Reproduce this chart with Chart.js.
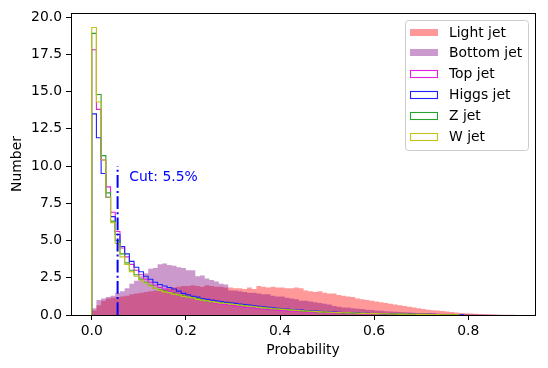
<!DOCTYPE html>
<html>
<head>
<meta charset="utf-8">
<script src="https://cdn.jsdelivr.net/npm/chart.js@4/dist/chart.umd.min.js"></script>
<style>
  html, body { margin: 0; padding: 0; background: #fff; }
  #wrap { width: 548px; height: 368px; position: relative; }
</style>
</head>
<body>
<div id="wrap"><canvas id="c" width="548" height="368"></canvas></div>
<script>
// ---- data (bin width 0.01, starting at 0) ----
const binStart = 0.0;
const binWidth = 0.01;

const lightJet = [
  0.3, 0.65, 0.95, 1.1, 1.15, 1.2, 1.25, 1.3, 1.4, 1.45,
  1.5, 1.55, 1.6, 1.65, 1.7, 1.75, 1.8, 1.85, 1.9, 1.95,
  1.95, 2.0, 1.95, 1.9, 2.0, 1.95, 1.9, 1.9, 1.85, 1.85,
  1.8, 1.8, 1.75, 1.85, 1.75, 1.95, 1.9, 1.85, 1.9, 1.85,
  1.85, 1.8, 1.8, 1.85, 1.8, 1.65, 1.6, 1.55, 1.6, 1.5,
  1.45, 1.45, 1.35, 1.3, 1.25, 1.2, 1.1, 1.05, 1.0, 0.95,
  0.9, 0.85, 0.8, 0.75, 0.7, 0.65, 0.6, 0.55, 0.5, 0.45,
  0.4, 0.35, 0.32, 0.3, 0.27, 0.23, 0.2, 0.16, 0.14, 0.12,
  0.1, 0.08, 0.06, 0.05, 0.03, 0.02, 0.01, 0, 0, 0
];
const bottomJet = [
  0.45, 1.0, 1.1, 1.2, 1.3, 1.5, 1.6, 1.8, 2.1, 2.3,
  2.6, 2.8, 3.1, 3.15, 3.4, 3.45, 3.35, 3.3, 3.2, 3.15,
  3.0, 3.0, 2.6, 2.65, 2.45, 2.35, 2.25, 2.1, 2.05, 1.65,
  1.65, 1.6, 1.55, 1.5, 1.5, 1.45, 1.4, 1.4, 1.3, 1.25,
  1.25, 1.15, 1.1, 1.05, 0.95, 0.95, 0.9, 0.85, 0.8, 0.75,
  0.7, 0.6, 0.55, 0.5, 0.5, 0.45, 0.42, 0.4, 0.36, 0.33,
  0.3, 0.28, 0.26, 0.24, 0.22, 0.2, 0.18, 0.17, 0.15, 0.14,
  0.13, 0.12, 0.11, 0.1, 0.09, 0.08, 0.08, 0.07, 0.06, 0.06,
  0.05, 0.05, 0.04, 0.04, 0.03, 0.03, 0.02, 0.02, 0.01, 0.01
];
const topJet = [
  17.8, 13.8, 10.4, 8.6, 6.9, 5.6, 4.5, 3.9, 3.4, 3.0,
  2.7, 2.4, 2.2, 2.0, 1.85, 1.75, 1.6, 1.5, 1.4, 1.3,
  1.2, 1.1, 1.05, 1.0, 0.92, 0.86, 0.8, 0.75, 0.7, 0.66,
  0.6, 0.57, 0.53, 0.5, 0.46, 0.42, 0.4, 0.37, 0.35, 0.32,
  0.3, 0.28, 0.26, 0.24, 0.22, 0.2, 0.19, 0.18, 0.17, 0.16,
  0.15, 0.14, 0.13, 0.12, 0.11, 0.1, 0.1, 0.09, 0.08, 0.08,
  0.07, 0.07, 0.06, 0.06, 0.05, 0.05, 0.04, 0.04, 0.03, 0.03,
  0.03, 0.02, 0.02, 0.02, 0.01, 0.01, 0.01, 0.01, 0, 0,
  0, 0, 0, 0, 0, 0, 0, 0, 0, 0
];
const higgsJet = [
  13.5, 11.9, 9.5, 7.9, 6.6, 5.4, 4.6, 4.1, 3.6, 3.2,
  2.9, 2.6, 2.4, 2.2, 2.05, 1.95, 1.85, 1.75, 1.6, 1.45,
  1.35, 1.25, 1.2, 1.1, 1.05, 1.0, 0.95, 0.9, 0.85, 0.82,
  0.78, 0.74, 0.7, 0.66, 0.62, 0.58, 0.55, 0.52, 0.48, 0.45,
  0.42, 0.4, 0.37, 0.35, 0.33, 0.3, 0.28, 0.26, 0.24, 0.22,
  0.2, 0.19, 0.18, 0.16, 0.15, 0.14, 0.13, 0.12, 0.11, 0.1,
  0.1, 0.09, 0.08, 0.08, 0.07, 0.07, 0.06, 0.06, 0.05, 0.05,
  0.05, 0.04, 0.04, 0.03, 0.03, 0.02, 0.02, 0.01, 0.01, 0,
  0, 0, 0, 0, 0, 0, 0, 0, 0, 0
];
const zJet = [
  18.9, 14.8, 10.7, 8.2, 6.3, 5.0, 4.1, 3.5, 3.0, 2.7,
  2.4, 2.2, 2.0, 1.8, 1.7, 1.6, 1.5, 1.45, 1.35, 1.3,
  1.2, 1.15, 1.1, 1.0, 0.95, 0.9, 0.86, 0.82, 0.78, 0.74,
  0.7, 0.66, 0.62, 0.58, 0.55, 0.52, 0.48, 0.45, 0.42, 0.4,
  0.37, 0.35, 0.33, 0.3, 0.28, 0.26, 0.24, 0.22, 0.2, 0.19,
  0.18, 0.17, 0.16, 0.15, 0.14, 0.13, 0.12, 0.11, 0.1, 0.1,
  0.09, 0.08, 0.08, 0.07, 0.07, 0.06, 0.06, 0.05, 0.05, 0.04,
  0.04, 0.04, 0.03, 0.03, 0.02, 0.02, 0.01, 0.01, 0, 0,
  0, 0, 0, 0, 0, 0, 0, 0, 0, 0
];
const wJet = [
  19.3, 14.3, 10.4, 7.9, 6.2, 4.8, 3.9, 3.4, 2.9, 2.6,
  2.35, 2.15, 1.95, 1.8, 1.65, 1.55, 1.5, 1.4, 1.35, 1.25,
  1.2, 1.15, 1.05, 1.0, 0.95, 0.9, 0.85, 0.8, 0.77, 0.73,
  0.7, 0.65, 0.62, 0.58, 0.55, 0.51, 0.48, 0.45, 0.42, 0.4,
  0.38, 0.35, 0.33, 0.31, 0.29, 0.27, 0.25, 0.23, 0.21, 0.2,
  0.18, 0.17, 0.16, 0.15, 0.14, 0.13, 0.12, 0.11, 0.1, 0.1,
  0.09, 0.08, 0.08, 0.07, 0.07, 0.06, 0.06, 0.05, 0.05, 0.04,
  0.04, 0.03, 0.03, 0.03, 0.02, 0.02, 0.01, 0.01, 0, 0,
  0, 0, 0, 0, 0, 0, 0, 0, 0, 0
];

const seriesLabels = ['Light jet', 'Bottom jet', 'Top jet', 'Higgs jet', 'Z jet', 'W jet'];
const xTicks = [0.0, 0.2, 0.4, 0.6, 0.8];
const yTicks = [0.0, 2.5, 5.0, 7.5, 10.0, 12.5, 15.0, 17.5, 20.0];
const cutValue = 0.055;
const cutTop = 10;
const cutText = 'Cut: 5.5%';
const cutTextPos = [0.08, 9];

// ---- build histogram outlines (trailing empty bins dropped) ----
function histPoints(values) {
  let n = values.length;
  while (n > 1 && values[n - 1] === 0) n--;
  const pts = [{x: binStart, y: 0}];
  for (let i = 0; i < n; i++) pts.push({x: binStart + i * binWidth, y: values[i]});
  pts.push({x: binStart + n * binWidth, y: 0});
  return pts;
}

const FONT = "'DejaVu Sans', 'Liberation Sans', sans-serif";
const FS = 13.9;

function filled(label, values, color, order) {
  return {
    label, data: histPoints(values), stepped: 'before',
    fill: 'origin', backgroundColor: color, borderColor: 'rgba(0,0,0,0)',
    borderWidth: 0, pointRadius: 0, order, legendKind: 'fill'
  };
}
function step(label, values, color, order) {
  return {
    label, data: histPoints(values), stepped: 'before',
    fill: false, borderColor: color, backgroundColor: color,
    borderWidth: 1.1, pointRadius: 0, order, legendKind: 'step'
  };
}

const datasets = [
  filled(seriesLabels[0], lightJet, 'rgba(255,0,0,0.4)', 7),
  filled(seriesLabels[1], bottomJet, 'rgba(128,0,128,0.4)', 6),
  step(seriesLabels[2], topJet, '#e020e0', 5),
  step(seriesLabels[3], higgsJet, '#1f1fff', 4),
  step(seriesLabels[4], zJet, '#2ca02c', 3),
  step(seriesLabels[5], wJet, '#c2c21e', 2),
  {
    label: '', data: [{x: cutValue, y: 0}, {x: cutValue, y: cutTop}],
    borderColor: '#0000ff', borderWidth: 2, borderDash: [12.8, 3.2, 2, 3.2],
    pointRadius: 0, fill: false, order: 1, legendKind: 'none'
  }
];

const framePlugin = {
  id: 'frame',
  afterDatasetsDraw(chart) {
    const {ctx, chartArea: a, scales} = chart;
    ctx.save();
    // annotation text
    ctx.fillStyle = '#0000ff';
    ctx.font = FS + 'px ' + FONT;
    ctx.textAlign = 'left';
    ctx.textBaseline = 'alphabetic';
    ctx.fillText(cutText, scales.x.getPixelForValue(cutTextPos[0]), scales.y.getPixelForValue(cutTextPos[1]));
    // spines
    ctx.strokeStyle = '#000';
    ctx.lineWidth = 1;
    ctx.strokeRect(Math.round(a.left) + 0.5, Math.round(a.top) + 0.5,
                   Math.round(a.right) - Math.round(a.left), Math.round(a.bottom) - Math.round(a.top));
    // legend
    const items = chart.data.datasets.filter(d => d.legendKind !== 'none');
    const bx = 405.5, by = 20.5, bw = 123, bh = 130, r = 3;
    ctx.beginPath();
    ctx.moveTo(bx + r, by);
    ctx.lineTo(bx + bw - r, by); ctx.arcTo(bx + bw, by, bx + bw, by + r, r);
    ctx.lineTo(bx + bw, by + bh - r); ctx.arcTo(bx + bw, by + bh, bx + bw - r, by + bh, r);
    ctx.lineTo(bx + r, by + bh); ctx.arcTo(bx, by + bh, bx, by + bh - r, r);
    ctx.lineTo(bx, by + r); ctx.arcTo(bx, by, bx + r, by, r);
    ctx.closePath();
    ctx.fillStyle = 'rgba(255,255,255,0.8)';
    ctx.fill();
    ctx.strokeStyle = '#cccccc';
    ctx.stroke();
    ctx.font = FS + 'px ' + FONT;
    ctx.textBaseline = 'middle';
    items.forEach((d, i) => {
      const cy = 32 + i * 20.8;
      const px = 410, pw = 28, ph = 7;
      if (d.legendKind === 'fill') {
        ctx.fillStyle = d.backgroundColor;
        ctx.fillRect(px, Math.round(cy - ph / 2), pw, ph);
      } else {
        ctx.strokeStyle = d.borderColor;
        ctx.lineWidth = 1.1;
        ctx.strokeRect(px + 0.5, Math.round(cy - ph / 2) + 0.5, pw - 1, ph);
      }
      ctx.fillStyle = '#000';
      ctx.fillText(d.label, 449, cy + 1);
    });
    ctx.restore();
  }
};

new Chart(document.getElementById('c'), {
  type: 'line',
  data: { datasets },
  options: {
    responsive: false,
    animation: false,
    devicePixelRatio: 1,
    layout: { padding: { top: 13, right: 13, left: 0, bottom: 0 } },
    plugins: { legend: { display: false }, tooltip: { enabled: false } },
    font: { family: FONT },
    scales: {
      x: {
        type: 'linear', min: -0.044, max: 0.9417,
        afterFit(s) { s.height = 53; },
        afterBuildTicks(s) { s.ticks = xTicks.map(v => ({value: v})); },
        ticks: {
          color: '#000', padding: 3, maxRotation: 0, autoSkip: false,
          font: { family: FONT, size: FS },
          callback: v => Number(v).toFixed(1)
        },
        grid: { drawOnChartArea: false, drawTicks: true, tickLength: 5, color: '#000', lineWidth: 1 },
        border: { display: false },
        title: { display: true, text: 'Probability', color: '#000',
                 font: { family: FONT, size: FS }, padding: { top: 0, bottom: 9 } }
      },
      y: {
        type: 'linear', min: 0, max: 20.27,
        afterFit(s) { s.width = 71; },
        afterBuildTicks(s) { s.ticks = yTicks.map(v => ({value: v})); },
        ticks: {
          color: '#000', padding: 4, autoSkip: false,
          font: { family: FONT, size: FS },
          callback: v => Number(v).toFixed(1)
        },
        grid: { drawOnChartArea: false, drawTicks: true, tickLength: 5, color: '#000', lineWidth: 1 },
        border: { display: false },
        title: { display: true, text: 'Number', color: '#000',
                 font: { family: FONT, size: FS }, padding: { top: 9, bottom: 0 } }
      }
    }
  },
  plugins: [framePlugin]
});
</script>
</body>
</html>
